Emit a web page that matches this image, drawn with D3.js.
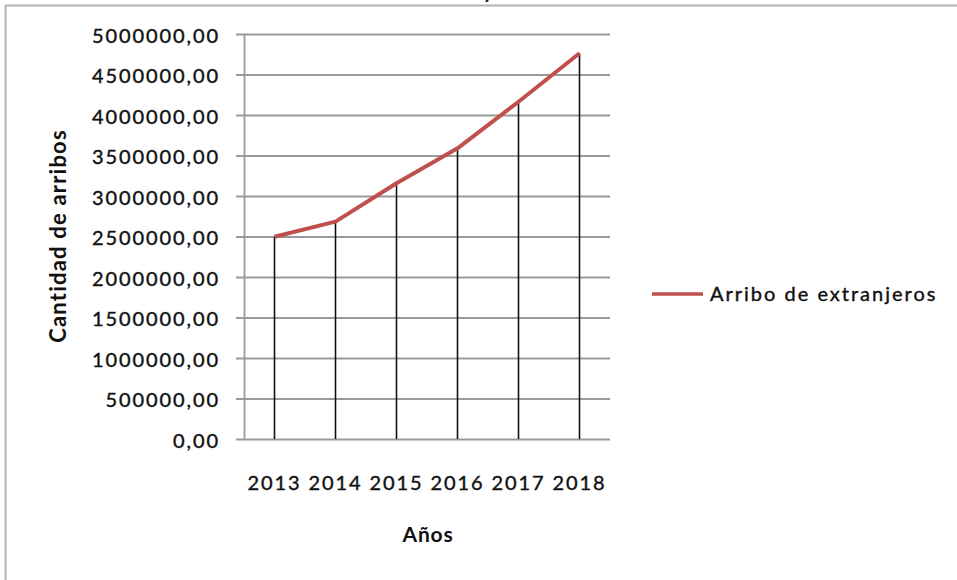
<!DOCTYPE html>
<html>
<head>
<meta charset="utf-8">
<script src="https://cdn.jsdelivr.net/npm/d3@7"></script>
<style>
  body { margin: 0; background: #fff; }
  text { font-family: Lato, "Open Sans", sans-serif; fill: #111; }
  .thick { stroke: #111; stroke-width: 0.4px; }
</style>
</head>
<body>
<div id="graph"></div>
<script>
var years = ["2013", "2014", "2015", "2016", "2017", "2018"];
var arribos = [2497000, 2683000, 3157000, 3589000, 4164000, 4762000];
var yTicks = [0, 500000, 1000000, 1500000, 2000000, 2500000, 3000000, 3500000, 4000000, 4500000, 5000000];
var seriesName = "Arribo de extranjeros";
var xTitle = "Años";
var yTitle = "Cantidad de arribos";

var svgWidth = 957;
var svgHeight = 580;
var plot = {left: 244, right: 610, top: 34, bottom: 439};
var lineColor = "#c0504d";
var gridColor = "#999999";

var $svg = d3.select("#graph")
    .append("svg")
    .attr("width", svgWidth)
    .attr("height", svgHeight);

// chart frame
$svg.append("rect")
    .attr("x", 5.5).attr("y", 5.5)
    .attr("width", 980).attr("height", 620)
    .attr("fill", "none")
    .attr("stroke", "#b4b4b4")
    .attr("stroke-width", 2);

// cut off title, only the descender shows
$svg.append("text")
    .attr("x", 483).attr("y", -2)
    .attr("font-weight", "bold")
    .attr("font-size", 20)
    .text("y");

var x = d3.scaleBand()
    .domain(years)
    .range([plot.left, plot.right])
    .padding(0);

var y = d3.scaleLinear()
    .domain([0, 5000000])
    .range([plot.bottom, plot.top]);

var fmt = d => d3.format(".2f")(d).replace(".", ",");

// y axis with gridlines
var yAxis = d3.axisLeft(y)
    .tickValues(yTicks)
    .tickFormat(fmt)
    .tickSize(-(plot.right - plot.left))
    .tickSizeOuter(0);

var $yAxis = $svg.append("g")
    .attr("transform", `translate(${plot.left},0)`)
    .call(yAxis);
$yAxis.select(".domain").attr("stroke", gridColor).attr("stroke-width", 1.8);
$yAxis.selectAll(".tick line")
    .attr("x1", -8)
    .attr("stroke", gridColor)
    .attr("stroke-width", 1.8);
$yAxis.selectAll(".tick text")
    .classed("thick", true)
    .attr("x", -24)
    .attr("dy", "0.42em")
    .attr("font-size", 20)
    .attr("letter-spacing", 1.9)
    .attr("font-family", "Lato")
    .attr("fill", "#111");

// x axis labels
var xAxis = d3.axisBottom(x).tickSize(0).tickPadding(0);
var $xAxis = $svg.append("g")
    .attr("transform", `translate(0,${plot.bottom})`)
    .call(xAxis);
$xAxis.select(".domain").remove();
$xAxis.selectAll(".tick text")
    .classed("thick", true)
    .attr("y", 51)
    .attr("dy", 0)
    .attr("font-size", 20)
    .attr("letter-spacing", 1.9)
    .attr("font-family", "Lato")
    .attr("fill", "#111");

// drop lines
$svg.append("g").selectAll("line")
    .data(arribos)
    .join("line")
    .attr("x1", (d, i) => x(years[i]) + x.bandwidth() / 2)
    .attr("x2", (d, i) => x(years[i]) + x.bandwidth() / 2)
    .attr("y1", d => y(d))
    .attr("y2", plot.bottom)
    .attr("stroke", "#111")
    .attr("stroke-width", 1.6);

// series line
var line = d3.line()
    .x((d, i) => x(years[i]) + x.bandwidth() / 2)
    .y(d => y(d));

$svg.append("path")
    .datum(arribos)
    .attr("d", line)
    .attr("fill", "none")
    .attr("stroke", lineColor)
    .attr("stroke-width", 4)
    .attr("stroke-linejoin", "round");

// legend
var $legend = $svg.append("g").attr("transform", "translate(652,294)");
$legend.append("line")
    .attr("x1", 0).attr("x2", 51)
    .attr("stroke", lineColor)
    .attr("stroke-width", 3.5);
$legend.append("text")
    .classed("thick", true)
    .attr("x", 58).attr("y", 7)
    .attr("font-size", 20)
    .attr("letter-spacing", 2)
    .text(seriesName);

// axis titles
$svg.append("text")
    .attr("x", 428).attr("y", 542)
    .attr("text-anchor", "middle")
    .attr("font-weight", "bold")
    .attr("font-size", 21)
    .attr("letter-spacing", 0.8)
    .text(xTitle);

$svg.append("text")
    .attr("transform", "translate(66,236) rotate(-90)")
    .attr("text-anchor", "middle")
    .attr("font-weight", "bold")
    .attr("font-size", 22)
    .attr("letter-spacing", 1.2)
    .text(yTitle);
</script>
</body>
</html>
